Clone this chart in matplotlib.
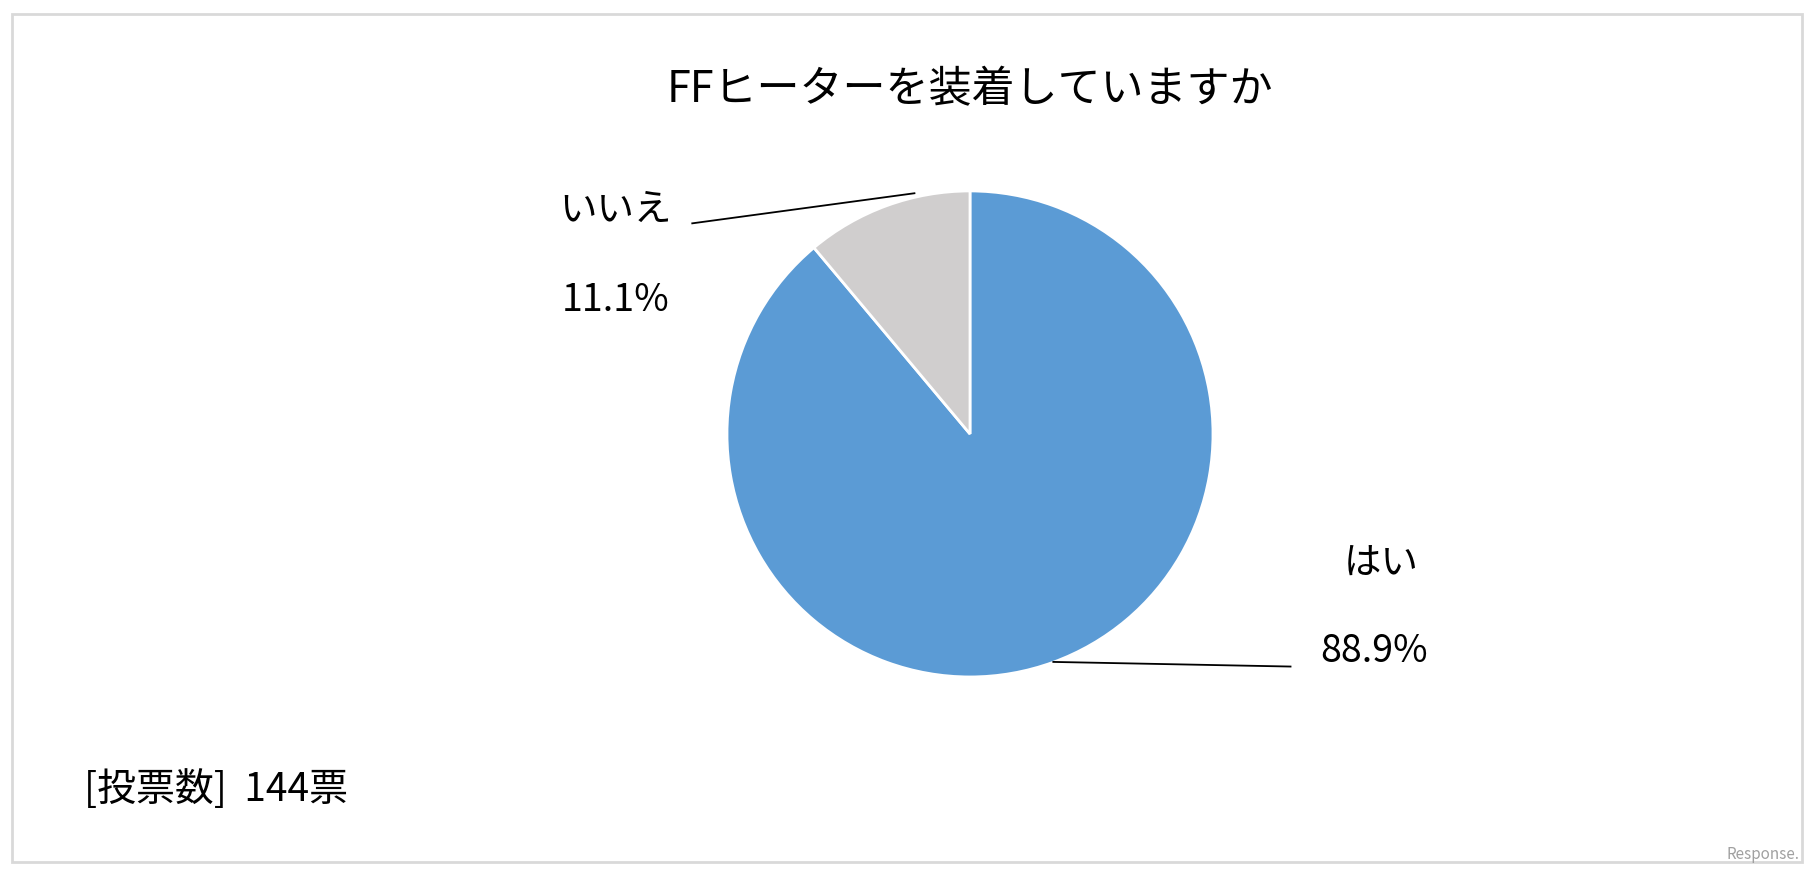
import matplotlib
matplotlib.use("Agg")
import matplotlib.pyplot as plt
from matplotlib.patches import Rectangle

plt.rcParams['font.family'] = ['Noto Sans CJK JP', 'DejaVu Sans']

title = 'FFヒーターを装着していますか'
labels = ['はい', 'いいえ']
values = [88.9, 11.1]
colors = ['#5B9BD5', '#D0CECE']
votes = '[投票数]  144票'

W, H = 1568, 757
fig = plt.figure(figsize=(18.15, 8.76), dpi=100)
ax = fig.add_axes([0, 0, 1, 1])

ax.add_patch(Rectangle((10, 12), 1547, 733, fill=False, edgecolor='#D9D9D9', lw=2))

ax.pie(values, colors=colors, startangle=90, counterclock=False,
       center=(838, H - 375), radius=210, frame=True,
       wedgeprops=dict(edgecolor='white', linewidth=2))
ax.set_xlim(0, W)
ax.set_ylim(0, H)
ax.set_aspect('equal')
ax.axis('off')

ax.text(838, H - 78, title, ha='center', va='center', fontsize=31)

# labels
ax.text(1193, H - 487, labels[0], ha='center', va='center', fontsize=27)
ax.text(1187, H - 563, f'{values[0]}%', ha='center', va='center', fontsize=27)
ax.plot([910, 1115], [H - 572, H - 576], color='black', lw=1.3)

ax.text(532, H - 182, labels[1], ha='center', va='center', fontsize=27)
ax.text(532, H - 260, f'{values[1]}%', ha='center', va='center', fontsize=27)
ax.plot([598, 790], [H - 193, H - 167], color='black', lw=1.3)

ax.text(72, H - 683, votes, ha='left', va='center', fontsize=28)
ax.text(1555, H - 738, 'Response.', ha='right', va='center', fontsize=11,
        color='#A0A0A0', style='italic')

fig.savefig('out.png', dpi=100, facecolor='white')
